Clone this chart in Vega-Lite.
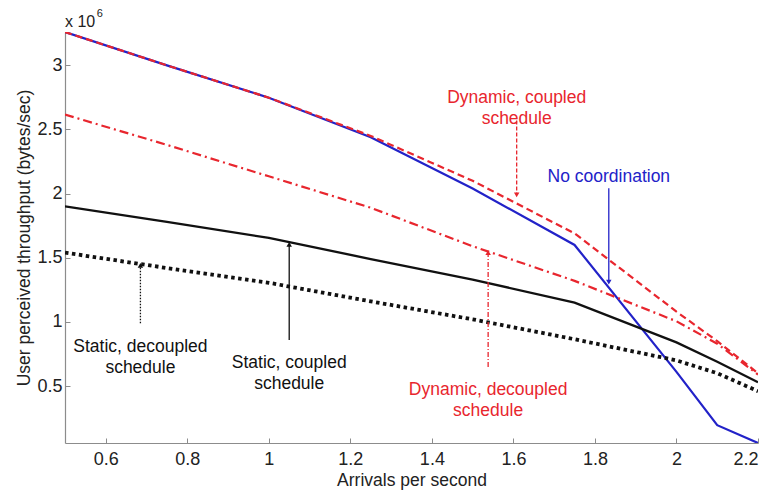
{
  "$schema": "https://vega.github.io/schema/vega-lite/v6.json",
  "width": 693,
  "height": 411,
  "autosize": "none",
  "padding": {"left": 65, "top": 32, "right": 6, "bottom": 48},
  "background": "white",
  "config": {
    "view": {"stroke": null},
    "font": "Liberation Sans",
    "axis": {
      "grid": false,
      "domainColor": "#8c8c8c",
      "domainWidth": 1.2,
      "tickColor": "#8c8c8c",
      "tickSize": -5,
      "labelPadding": 8,
      "labelFontSize": 18,
      "labelColor": "#222222",
      "titleFontSize": 17.5,
      "titleFontWeight": "normal",
      "titleColor": "#222222"
    }
  },
  "datasets": {
    "lines": [
      {"series": "No coordination", "x": 0.5, "y": 3.26},
      {"series": "No coordination", "x": 0.75, "y": 3.0},
      {"series": "No coordination", "x": 1.0, "y": 2.748},
      {"series": "No coordination", "x": 1.25, "y": 2.44},
      {"series": "No coordination", "x": 1.5, "y": 2.04},
      {"series": "No coordination", "x": 1.75, "y": 1.6},
      {"series": "No coordination", "x": 2.0, "y": 0.61},
      {"series": "No coordination", "x": 2.1, "y": 0.195},
      {"series": "No coordination", "x": 2.2, "y": 0.056},
      {"series": "Dynamic, coupled", "x": 0.5, "y": 3.26},
      {"series": "Dynamic, coupled", "x": 0.75, "y": 3.0},
      {"series": "Dynamic, coupled", "x": 1.0, "y": 2.748},
      {"series": "Dynamic, coupled", "x": 1.25, "y": 2.45},
      {"series": "Dynamic, coupled", "x": 1.5, "y": 2.1},
      {"series": "Dynamic, coupled", "x": 1.75, "y": 1.69},
      {"series": "Dynamic, coupled", "x": 2.0, "y": 1.08},
      {"series": "Dynamic, coupled", "x": 2.1, "y": 0.85},
      {"series": "Dynamic, coupled", "x": 2.2, "y": 0.6},
      {"series": "Dynamic, decoupled", "x": 0.5, "y": 2.616},
      {"series": "Dynamic, decoupled", "x": 0.75, "y": 2.38},
      {"series": "Dynamic, decoupled", "x": 1.0, "y": 2.135},
      {"series": "Dynamic, decoupled", "x": 1.25, "y": 1.89},
      {"series": "Dynamic, decoupled", "x": 1.5, "y": 1.59},
      {"series": "Dynamic, decoupled", "x": 1.75, "y": 1.32},
      {"series": "Dynamic, decoupled", "x": 2.0, "y": 1.005},
      {"series": "Dynamic, decoupled", "x": 2.1, "y": 0.83},
      {"series": "Dynamic, decoupled", "x": 2.2, "y": 0.59},
      {"series": "Static, coupled", "x": 0.5, "y": 1.9},
      {"series": "Static, coupled", "x": 0.75, "y": 1.78},
      {"series": "Static, coupled", "x": 1.0, "y": 1.655},
      {"series": "Static, coupled", "x": 1.25, "y": 1.49},
      {"series": "Static, coupled", "x": 1.5, "y": 1.33},
      {"series": "Static, coupled", "x": 1.75, "y": 1.15},
      {"series": "Static, coupled", "x": 2.0, "y": 0.84},
      {"series": "Static, coupled", "x": 2.1, "y": 0.69},
      {"series": "Static, coupled", "x": 2.2, "y": 0.53},
      {"series": "Static, decoupled", "x": 0.5, "y": 1.54},
      {"series": "Static, decoupled", "x": 0.75, "y": 1.42},
      {"series": "Static, decoupled", "x": 1.0, "y": 1.305},
      {"series": "Static, decoupled", "x": 1.25, "y": 1.16},
      {"series": "Static, decoupled", "x": 1.5, "y": 1.02},
      {"series": "Static, decoupled", "x": 1.75, "y": 0.865},
      {"series": "Static, decoupled", "x": 2.0, "y": 0.7},
      {"series": "Static, decoupled", "x": 2.1, "y": 0.6},
      {"series": "Static, decoupled", "x": 2.2, "y": 0.46}
    ],
    "arrows": [
      {"series": "Dynamic, coupled", "x": 1.608, "from": 2.57, "tip": 1.99, "dir": "down"},
      {"series": "No coordination", "x": 1.834, "from": 2.042, "tip": 1.31, "dir": "down"},
      {"series": "Dynamic, decoupled", "x": 1.538, "from": 0.648, "tip": 1.54, "dir": "up"},
      {"series": "Static, coupled", "x": 1.05, "from": 0.858, "tip": 1.605, "dir": "up"},
      {"series": "Static, decoupled", "x": 0.685, "from": 0.99, "tip": 1.44, "dir": "up"}
    ],
    "labels": [
      {"series": "Dynamic, coupled", "label": "Dynamic, coupled\nschedule", "x": 1.608, "y": 2.748},
      {"series": "No coordination", "label": "No coordination", "x": 1.834, "y": 2.13},
      {"series": "Dynamic, decoupled", "label": "Dynamic, decoupled\nschedule", "x": 1.538, "y": 0.473},
      {"series": "Static, coupled", "label": "Static, coupled\nschedule", "x": 1.05, "y": 0.677},
      {"series": "Static, decoupled", "label": "Static, decoupled\nschedule", "x": 0.685, "y": 0.806}
    ],
    "exponent": [
      {"part": "base", "text": "x 10", "x": 0.5, "y": 3.296},
      {"part": "power", "text": "6", "x": 0.578, "y": 3.374}
    ]
  },
  "layer": [
    {
      "data": {"name": "lines"},
      "transform": [{"filter": "datum.series == 'No coordination'"}],
      "mark": {"type": "line", "strokeWidth": 2.2, "clip": true},
      "encoding": {
        "x": {"field": "x", "type": "quantitative", "scale": {"domain": [0.5, 2.2], "nice": false, "zero": false},
              "axis": {"values": [0.6, 0.8, 1, 1.2, 1.4, 1.6, 1.8, 2, 2.2], "format": ".1~f", "title": "Arrivals per second", "titlePadding": 3, "labelPadding": 12}},
        "y": {"field": "y", "type": "quantitative", "scale": {"domain": [0.056, 3.26], "nice": false, "zero": false},
              "axis": {"values": [0.5, 1, 1.5, 2, 2.5, 3], "format": ".1~f", "title": "User perceived throughput (bytes/sec)", "titlePadding": 3}},
        "color": {"field": "series", "type": "nominal", "legend": null,
                  "scale": {"domain": ["Dynamic, coupled", "No coordination", "Dynamic, decoupled", "Static, coupled", "Static, decoupled"],
                            "range": ["#e8262e", "#2222c8", "#e8262e", "#111111", "#111111"]}}
      }
    },
    {
      "data": {"name": "lines"},
      "transform": [{"filter": "datum.series == 'Dynamic, coupled'"}],
      "mark": {"type": "line", "clip": true, "strokeWidth": 2.2, "strokeDash": [7, 4]},
      "encoding": {
        "x": {"field": "x", "type": "quantitative"},
        "y": {"field": "y", "type": "quantitative"},
        "color": {"field": "series", "type": "nominal", "legend": null}
      }
    },
    {
      "data": {"name": "lines"},
      "transform": [{"filter": "datum.series == 'Dynamic, decoupled'"}],
      "mark": {"type": "line", "clip": true, "strokeWidth": 2.2, "strokeDash": [9, 4, 2, 4]},
      "encoding": {
        "x": {"field": "x", "type": "quantitative"},
        "y": {"field": "y", "type": "quantitative"},
        "color": {"field": "series", "type": "nominal", "legend": null}
      }
    },
    {
      "data": {"name": "lines"},
      "transform": [{"filter": "datum.series == 'Static, coupled'"}],
      "mark": {"type": "line", "clip": true, "strokeWidth": 2.3},
      "encoding": {
        "x": {"field": "x", "type": "quantitative"},
        "y": {"field": "y", "type": "quantitative"},
        "color": {"field": "series", "type": "nominal", "legend": null}
      }
    },
    {
      "data": {"name": "lines"},
      "transform": [{"filter": "datum.series == 'Static, decoupled'"}],
      "mark": {"type": "line", "clip": true, "strokeWidth": 3.8, "strokeDash": [3.5, 3.5]},
      "encoding": {
        "x": {"field": "x", "type": "quantitative"},
        "y": {"field": "y", "type": "quantitative"},
        "color": {"field": "series", "type": "nominal", "legend": null}
      }
    },
    {
      "data": {"name": "arrows"},
      "mark": {"type": "rule", "strokeWidth": 1.3},
      "encoding": {
        "x": {"field": "x", "type": "quantitative"},
        "y": {"field": "from", "type": "quantitative"},
        "y2": {"field": "tip"},
        "color": {"field": "series", "type": "nominal", "legend": null},
        "strokeDash": {"field": "series", "type": "nominal", "legend": null,
                       "scale": {"domain": ["Dynamic, coupled", "No coordination", "Dynamic, decoupled", "Static, coupled", "Static, decoupled"],
                                 "range": [[4, 2], [1, 0], [5, 2, 1, 2], [1, 0], [1.5, 1.5]]}}
      }
    },
    {
      "data": {"name": "arrows"},
      "mark": {"type": "point", "filled": true, "opacity": 1, "size": 30},
      "encoding": {
        "x": {"field": "x", "type": "quantitative"},
        "y": {"field": "tip", "type": "quantitative"},
        "color": {"field": "series", "type": "nominal", "legend": null},
        "shape": {"field": "dir", "type": "nominal", "legend": null,
                  "scale": {"domain": ["up", "down"], "range": ["triangle-up", "triangle-down"]}}
      }
    },
    {
      "data": {"name": "labels"},
      "mark": {"type": "text", "fontSize": 17.5, "lineBreak": "\n", "lineHeight": 21, "align": "center", "baseline": "middle"},
      "encoding": {
        "x": {"field": "x", "type": "quantitative"},
        "y": {"field": "y", "type": "quantitative"},
        "text": {"field": "label"},
        "color": {"field": "series", "type": "nominal", "legend": null}
      }
    },
    {
      "data": {"name": "exponent"},
      "transform": [{"filter": "datum.part == 'base'"}],
      "mark": {"type": "text", "align": "left", "baseline": "alphabetic", "color": "#222222", "fontSize": 16},
      "encoding": {
        "x": {"field": "x", "type": "quantitative"},
        "y": {"field": "y", "type": "quantitative"},
        "text": {"field": "text"}
      }
    },
    {
      "data": {"name": "exponent"},
      "transform": [{"filter": "datum.part == 'power'"}],
      "mark": {"type": "text", "align": "left", "baseline": "alphabetic", "color": "#222222", "fontSize": 11},
      "encoding": {
        "x": {"field": "x", "type": "quantitative"},
        "y": {"field": "y", "type": "quantitative"},
        "text": {"field": "text"}
      }
    }
  ],
  "resolve": {"scale": {"strokeDash": "independent", "shape": "independent"}}
}
